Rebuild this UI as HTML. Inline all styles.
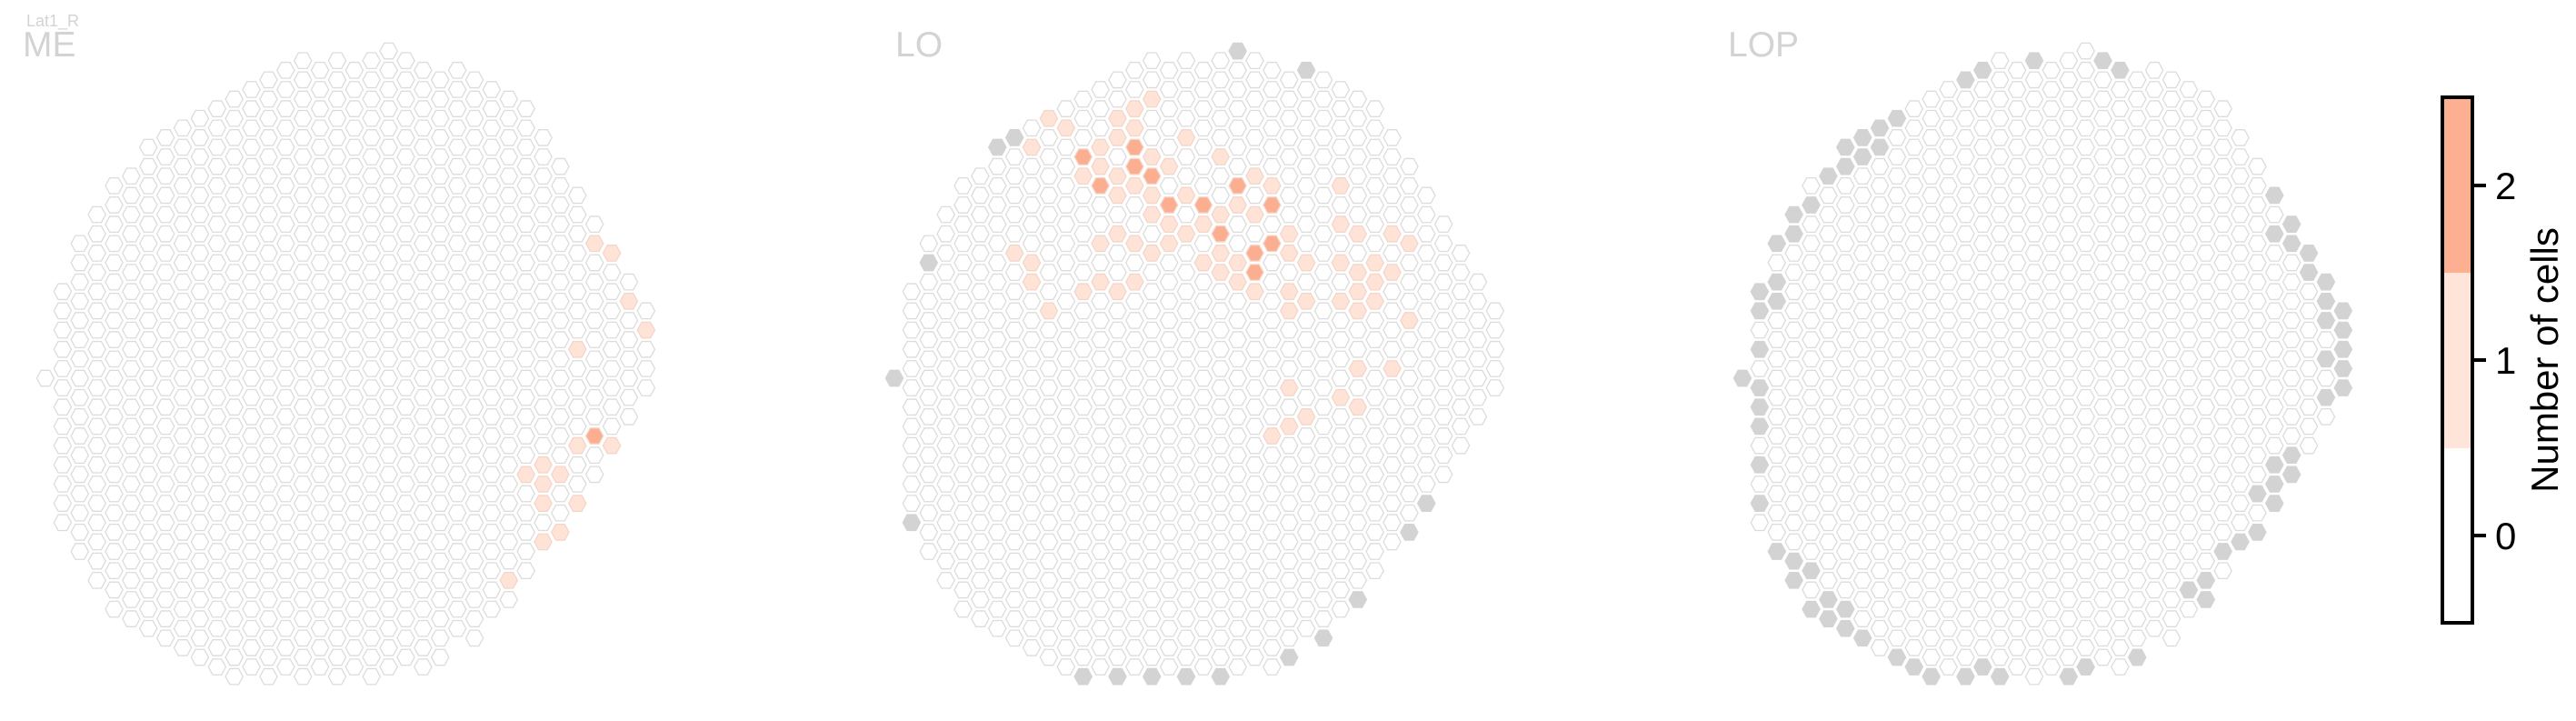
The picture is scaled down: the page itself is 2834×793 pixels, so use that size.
<!DOCTYPE html>
<html><head><meta charset="utf-8"><style>
html,body{margin:0;padding:0;background:#fff;}
svg{display:block;font-family:"Liberation Sans",sans-serif;}
</style></head><body>
<svg id="chart" width="2834" height="793" viewBox="0 0 2834 793" xmlns="http://www.w3.org/2000/svg">
<text x="29" y="29" font-size="18" fill="#d3d3d3">Lat1_R</text>
<g id="panels"></g>
<g>
  <rect x="2687" y="107" width="33" height="193" fill="#fcb091"/>
  <rect x="2687" y="300" width="33" height="193" fill="#fee4d9"/>
  <rect x="2687" y="493" width="33" height="192" fill="#ffffff"/>
  <rect x="2687" y="107" width="33" height="578" fill="none" stroke="#000" stroke-width="4"/>
  <line x1="2720" y1="204" x2="2735" y2="204" stroke="#000" stroke-width="4"/>
  <line x1="2720" y1="396" x2="2735" y2="396" stroke="#000" stroke-width="4"/>
  <line x1="2720" y1="589" x2="2735" y2="589" stroke="#000" stroke-width="4"/>
  <text x="2745" y="219" font-size="42" fill="#000">2</text>
  <text x="2745" y="411" font-size="42" fill="#000">1</text>
  <text x="2745" y="604" font-size="42" fill="#000">0</text>
  <text transform="translate(2814,396) rotate(-90)" text-anchor="middle" font-size="42" fill="#000">Number of cells</text>
</g>
</svg>
<script>
// lattice extent per column (half-row units)
const colTop = [0,-9,-14,-17,-20,-21,-24,-25,-26,-27,-28,-29,-30,-31,-32,-33,-32,-33,-32,-33,-34,-33,-32,-31,-32,-31,-30,-29,-28,-25,-22,-19,-16,-13,-10,-7];
const colBot = [0,15,18,21,24,25,26,27,28,29,30,31,30,31,30,31,30,31,30,31,30,29,30,29,26,27,24,23,20,17,16,13,10,7,4,1];
const panelNames = ["ME","LO","LOP"];
// cells: [column, half-row]
const meCount1 = [[32,-14],[33,-13],[34,-8],[35,-5],[31,-3],[31,7],[33,7],[29,9],[28,10],[30,10],[29,11],[29,13],[31,13],[30,16],[29,17],[27,21]];
const meCount2 = [[32,6]];
const meMissing = [];
const loCount1 = [[15,-29],[14,-28],[9,-27],[13,-27],[10,-26],[14,-26],[13,-25],[17,-25],[8,-24],[12,-24],[15,-23],[19,-23],[12,-22],[16,-22],[11,-21],[13,-21],[21,-21],[14,-20],[22,-20],[26,-20],[13,-19],[15,-19],[17,-19],[20,-18],[15,-17],[19,-17],[21,-17],[16,-16],[18,-16],[26,-16],[13,-15],[17,-15],[23,-15],[27,-15],[29,-15],[12,-14],[14,-14],[16,-14],[30,-14],[7,-13],[15,-13],[19,-13],[23,-13],[8,-12],[18,-12],[20,-12],[24,-12],[26,-12],[28,-12],[19,-11],[27,-11],[29,-11],[8,-10],[12,-10],[14,-10],[20,-10],[28,-10],[11,-9],[13,-9],[21,-9],[23,-9],[27,-9],[24,-8],[26,-8],[28,-8],[9,-7],[23,-7],[27,-7],[30,-6],[27,-1],[29,-1],[23,1],[26,2],[27,3],[24,4],[23,5],[22,6]];
const loCount2 = [[11,-23],[14,-24],[14,-22],[15,-21],[12,-20],[20,-20],[16,-18],[18,-18],[22,-18],[19,-15],[22,-14],[21,-13],[21,-11]];
const loMissing = [[20,-34],[24,-32],[7,-25],[6,-24],[2,-12],[0,0],[1,15],[31,13],[30,16],[27,23],[25,27],[23,29],[11,31],[13,31],[15,31],[17,31],[19,31]];
const lopCount1 = [];
const lopCount2 = [];
const lopMissing = [[17,-33],[21,-33],[14,-32],[22,-32],[13,-31],[9,-27],[8,-26],[7,-25],[6,-24],[8,-24],[7,-23],[6,-22],[5,-21],[4,-18],[3,-17],[3,-15],[2,-14],[2,-10],[1,-9],[2,-8],[1,-7],[1,-3],[0,0],[1,1],[1,3],[1,5],[1,9],[1,13],[2,18],[3,19],[4,20],[3,21],[5,23],[4,24],[6,24],[5,25],[6,26],[7,27],[9,29],[10,30],[11,31],[13,31],[14,30],[15,31],[19,31],[20,30],[23,29],[27,21],[26,22],[27,23],[28,18],[29,17],[30,16],[30,12],[31,11],[31,9],[32,8],[32,10],[31,13],[31,-19],[32,-16],[31,-15],[32,-14],[33,-13],[33,-11],[34,-10],[34,-8],[34,-6],[35,-7],[35,-5],[35,-3],[34,-2],[35,-1],[35,1],[34,2]];

const panelOriginX = [50,984,1917];
const panelTitleX = [25,985,1901];
const originY = 416, colStep = 18.88, halfRow = 10.585;
const fills = {0:"#ffffff",1:"#fee3d6",2:"#fcae91",nan:"#d3d3d3"};
const NS = "http://www.w3.org/2000/svg";
const root = document.getElementById("panels");
const hexPts = [[-9.6,0],[-4.8,-8.7],[4.8,-8.7],[9.6,0],[4.8,8.7],[-4.8,8.7]];
const sets = [[meCount1,meCount2,meMissing],[loCount1,loCount2,loMissing],[lopCount1,lopCount2,lopMissing]];

function xScale(p,c){return panelOriginX[p]+c*colStep;}
function yScale(h){return originY+h*halfRow;}

sets.forEach(function(s,p){
  const g = document.createElementNS(NS,"g");
  
  
  root.appendChild(g);
  const t = document.createElementNS(NS,"text");
  t.setAttribute("x",panelTitleX[p]); t.setAttribute("y",62);
  t.setAttribute("font-size","39"); t.setAttribute("fill","#d3d3d3");
  t.textContent = panelNames[p];
  
  
  g.appendChild(t);
  const vals = {};
  for(let c=0;c<colTop.length;c++){
    for(let h=colTop[c];h<=colBot[c];h+=2){ vals[c+","+h]=0; }
  }
  s[0].forEach(function(k){vals[k[0]+","+k[1]]=1;});
  s[1].forEach(function(k){vals[k[0]+","+k[1]]=2;});
  s[2].forEach(function(k){vals[k[0]+","+k[1]]="nan";});
  Object.keys(vals).forEach(function(key){
    const parts = key.split(",").map(Number);
    const cx = xScale(p,parts[0]), cy = yScale(parts[1]);
    const v = vals[key];
    const poly = document.createElementNS(NS,"polygon");
    poly.setAttribute("points", hexPts.map(function(q){return (cx+q[0]).toFixed(2)+","+(cy+q[1]).toFixed(2);}).join(" "));
    poly.setAttribute("fill", fills[v]);
    poly.setAttribute("stroke", v===0 ? "#dcdcdc" : (v==="nan" ? "#d3d3d3" : "#f4d6c9"));
    poly.setAttribute("stroke-width", "1.3");
    
    
    g.appendChild(poly);
  });
});
</script>
</body></html>
